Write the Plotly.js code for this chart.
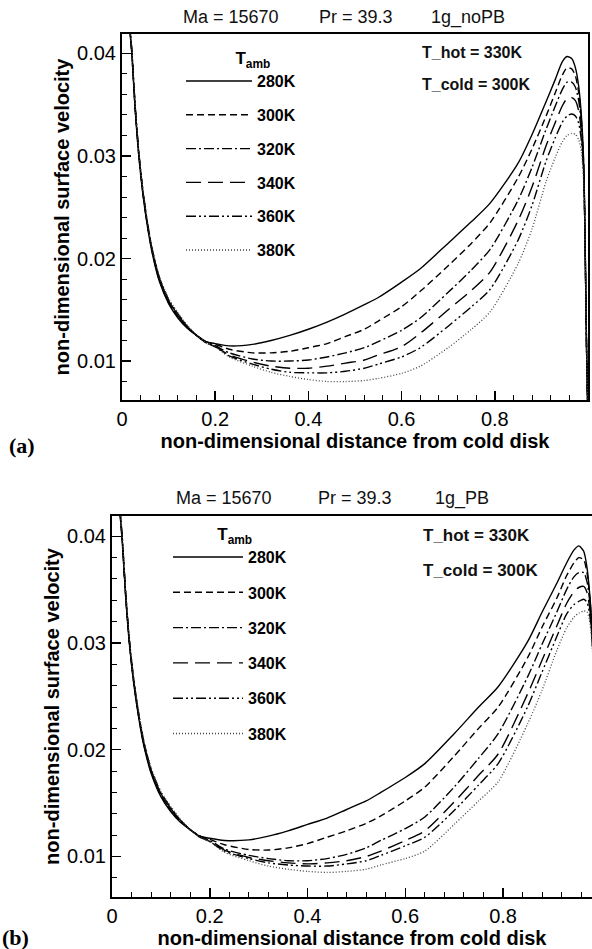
<!DOCTYPE html>
<html>
<head>
<meta charset="utf-8">
<script src="https://cdn.plot.ly/plotly-3.0.1.min.js"></script>
<style>html,body{margin:0;padding:0;background:#fff;}#chart{width:592px;height:949px;}</style>
</head>
<body>
<div id="chart"></div>
<script>
// ---------- data: panel (a) 1g_noPB ----------
var xTop = [0.010, 0.014, 0.017, 0.021, 0.028, 0.036, 0.045, 0.055, 0.065, 0.08, 0.10, 0.12, 0.14, 0.16, 0.18,
            0.20, 0.23, 0.28, 0.32, 0.36, 0.40, 0.44, 0.48, 0.52, 0.55, 0.60, 0.64, 0.70, 0.75, 0.79, 0.85,
            0.88, 0.91, 0.93, 0.945, 0.955, 0.965, 0.973, 0.98, 0.986, 0.991, 0.994, 0.997, 1.0];
var top280 = [0.0475, 0.0445, 0.0422, 0.0400, 0.0347, 0.0300, 0.0262, 0.0230, 0.0205, 0.0178, 0.0156, 0.0142, 0.0132, 0.0125, 0.0119,
              0.0117, 0.01148, 0.01162, 0.0120, 0.0125, 0.0131, 0.0138, 0.0146, 0.0155, 0.0162, 0.0177, 0.0190, 0.0215, 0.0236, 0.0254, 0.0293,
              0.0321, 0.0353, 0.0375, 0.0392, 0.0397, 0.0395, 0.0386, 0.0368, 0.0338, 0.0290, 0.0210, 0.0110, 0.0040];
var top300 = [0.0476, 0.0446, 0.0423, 0.0401, 0.0348, 0.0301, 0.0263, 0.0231, 0.0206, 0.0179, 0.0157, 0.0143, 0.0133, 0.0125, 0.0119,
              0.01165, 0.01115, 0.0108, 0.0108, 0.01095, 0.0113, 0.0117, 0.0124, 0.0131, 0.0139, 0.0153, 0.0168, 0.0193, 0.0215, 0.0235, 0.0279,
              0.0307, 0.0339, 0.0362, 0.0379, 0.0386, 0.0385, 0.0378, 0.0362, 0.0334, 0.0288, 0.0209, 0.0110, 0.0040];
var top320 = [0.0477, 0.0447, 0.0424, 0.0402, 0.0349, 0.0302, 0.0264, 0.0232, 0.0207, 0.0180, 0.0158, 0.0144, 0.0133, 0.0125, 0.0119,
              0.0115, 0.0108, 0.0102, 0.0100, 0.0100, 0.0101, 0.0104, 0.0108, 0.0113, 0.0119, 0.0130, 0.0142, 0.0167, 0.0189, 0.0209, 0.0257,
              0.0289, 0.0326, 0.0349, 0.0365, 0.0372, 0.0372, 0.0367, 0.0354, 0.0329, 0.0285, 0.0208, 0.0110, 0.0040];
var top340 = [0.0478, 0.0448, 0.0425, 0.0403, 0.0350, 0.0303, 0.0265, 0.0233, 0.0208, 0.0181, 0.0159, 0.0145, 0.0134, 0.0125, 0.0118,
              0.0114, 0.0106, 0.0099, 0.0095, 0.0093, 0.0093, 0.0095, 0.0098, 0.0101, 0.0106, 0.0114, 0.0127, 0.0150, 0.0169, 0.0187, 0.0237,
              0.0270, 0.0310, 0.0333, 0.0349, 0.0356, 0.0357, 0.0354, 0.0344, 0.0322, 0.0282, 0.0207, 0.0110, 0.0040];
var top360 = [0.0479, 0.0449, 0.0426, 0.0404, 0.0351, 0.0304, 0.0266, 0.0234, 0.0209, 0.0182, 0.0160, 0.0146, 0.0134, 0.0125, 0.0118,
              0.0114, 0.0105, 0.0097, 0.0092, 0.0089, 0.00885, 0.00885, 0.0090, 0.0093, 0.0097, 0.0104, 0.0113, 0.0134, 0.0153, 0.0170, 0.0218,
              0.0252, 0.0295, 0.0318, 0.0333, 0.0339, 0.0341, 0.0339, 0.0332, 0.0314, 0.0278, 0.0206, 0.0110, 0.0040];
var top380 = [0.0480, 0.0450, 0.0427, 0.0405, 0.0352, 0.0305, 0.0267, 0.0235, 0.0210, 0.0183, 0.0161, 0.0147, 0.0135, 0.0125, 0.0118,
              0.0114, 0.0104, 0.0095, 0.0089, 0.0085, 0.0082, 0.0080, 0.0080, 0.0081, 0.0083, 0.0088, 0.0095, 0.0113, 0.0131, 0.0148, 0.0195,
              0.0229, 0.0275, 0.0299, 0.0314, 0.0320, 0.0322, 0.0321, 0.0316, 0.0304, 0.0272, 0.0204, 0.0110, 0.0040];

// ---------- data: panel (b) 1g_PB ----------
var xBot = [0.010, 0.014, 0.017, 0.021, 0.028, 0.036, 0.045, 0.055, 0.065, 0.08, 0.10, 0.12, 0.14, 0.16, 0.18,
            0.20, 0.23, 0.28, 0.32, 0.36, 0.40, 0.44, 0.48, 0.52, 0.55, 0.60, 0.64, 0.70, 0.75, 0.79, 0.85,
            0.88, 0.91, 0.93, 0.945, 0.955, 0.965, 0.972, 0.978, 0.983, 0.988, 0.993];
var bot280 = [0.0470, 0.0440, 0.0418, 0.0395, 0.0343, 0.0297, 0.0260, 0.0229, 0.0204, 0.0178, 0.0156, 0.0142, 0.0132, 0.0125, 0.0119,
              0.0117, 0.0115, 0.01155, 0.0119, 0.0124, 0.0130, 0.0136, 0.0144, 0.0152, 0.0160, 0.0174, 0.0187, 0.0215, 0.0240, 0.0259, 0.0301,
              0.0329, 0.0356, 0.0375, 0.0387, 0.0391, 0.0386, 0.0370, 0.0342, 0.0305, 0.0250, 0.0180];
var bot300 = [0.0471, 0.0441, 0.0419, 0.0396, 0.0344, 0.0298, 0.0261, 0.0230, 0.0205, 0.0179, 0.0157, 0.0143, 0.0133, 0.0125, 0.0119,
              0.0116, 0.0111, 0.01065, 0.0106, 0.0108, 0.0112, 0.0118, 0.0124, 0.0131, 0.0138, 0.0152, 0.0165, 0.0194, 0.0220, 0.0240, 0.0286,
              0.0315, 0.0342, 0.0363, 0.0375, 0.0380, 0.0378, 0.0365, 0.0340, 0.0304, 0.0250, 0.0180];
var bot320 = [0.0472, 0.0442, 0.0420, 0.0397, 0.0345, 0.0299, 0.0262, 0.0231, 0.0206, 0.0180, 0.0158, 0.0144, 0.0133, 0.0125, 0.0119,
              0.0115, 0.0107, 0.0101, 0.0098, 0.0096, 0.0096, 0.0098, 0.0102, 0.0108, 0.0115, 0.0126, 0.0137, 0.0165, 0.0192, 0.0215, 0.0268,
              0.0299, 0.0329, 0.0350, 0.0362, 0.0366, 0.0366, 0.0357, 0.0336, 0.0302, 0.0249, 0.0180];
var bot340 = [0.0473, 0.0443, 0.0421, 0.0398, 0.0346, 0.0300, 0.0263, 0.0232, 0.0207, 0.0181, 0.0159, 0.0145, 0.0134, 0.0125, 0.0118,
              0.0114, 0.0106, 0.0099, 0.0096, 0.0094, 0.0093, 0.0094, 0.0096, 0.0100, 0.0105, 0.0115, 0.0124, 0.0151, 0.0176, 0.0196, 0.0252,
              0.0284, 0.0316, 0.0337, 0.0348, 0.0352, 0.0353, 0.0347, 0.0330, 0.0299, 0.0248, 0.0180];
var bot360 = [0.0474, 0.0444, 0.0422, 0.0399, 0.0347, 0.0301, 0.0264, 0.0233, 0.0208, 0.0182, 0.0160, 0.0146, 0.0134, 0.0125, 0.0118,
              0.0114, 0.0105, 0.0098, 0.0094, 0.0092, 0.0091, 0.0091, 0.0093, 0.0096, 0.0101, 0.0110, 0.0118, 0.0143, 0.0167, 0.0187, 0.0240,
              0.0273, 0.0306, 0.0327, 0.0336, 0.0339, 0.0341, 0.0338, 0.0324, 0.0296, 0.0247, 0.0180];
var bot380 = [0.0475, 0.0445, 0.0423, 0.0400, 0.0348, 0.0302, 0.0265, 0.0234, 0.0209, 0.0183, 0.0161, 0.0147, 0.0135, 0.0125, 0.0118,
              0.0114, 0.0104, 0.0096, 0.0091, 0.0088, 0.0086, 0.0085, 0.0086, 0.0088, 0.0092, 0.0098, 0.0105, 0.0130, 0.0152, 0.0170, 0.0224,
              0.0256, 0.0293, 0.0314, 0.0324, 0.0328, 0.0330, 0.0329, 0.0318, 0.0292, 0.0245, 0.0180];

var seriesNames = ['280K', '300K', '320K', '340K', '360K', '380K'];
var titleParts = ['Ma = 15670', 'Pr = 39.3'];
var caseNames = ['1g_noPB', '1g_PB'];
var panelLabels = ['(a)', '(b)'];
var noteHot = 'T_hot = 330K';
var noteCold = 'T_cold = 300K';
var xTitle = 'non-dimensional distance from cold disk';
var yTitle = 'non-dimensional surface velocity';

// ---------- styling ----------
var W = 592, H = 949;
var FONT = 'Liberation Sans, Arial, Helvetica, sans-serif';
var dashes = ['solid', '7px,4px', '10px,3px,2px,3px', '15px,7px', '10px,3px,2px,3px,2px,3px', '1px,2px'];
var colors = ['#000', '#000', '#000', '#000', '#000', '#444'];
var widths = [1.4, 1.4, 1.4, 1.4, 1.4, 1.3];

var topY = [top280, top300, top320, top340, top360, top380];
var botY = [bot280, bot300, bot320, bot340, bot360, bot380];

var traces = [];
for (var i = 0; i < 6; i++) {
  traces.push({
    x: xTop, y: topY[i], type: 'scatter', mode: 'lines', name: seriesNames[i],
    xaxis: 'x', yaxis: 'y', legend: 'legend', legendgroup: 'a' + i,
    line: {color: colors[i], width: widths[i], dash: dashes[i], shape: 'spline', smoothing: 0.7}, hoverinfo: 'skip'
  });
}
for (var j = 0; j < 6; j++) {
  traces.push({
    x: xBot, y: botY[j], type: 'scatter', mode: 'lines', name: seriesNames[j],
    xaxis: 'x2', yaxis: 'y2', legend: 'legend2', legendgroup: 'b' + j,
    line: {color: colors[j], width: widths[j], dash: dashes[j], shape: 'spline', smoothing: 0.7}, hoverinfo: 'skip'
  });
}

function px(x) { return x / W; }
function py(y) { return 1 - y / H; }

function xAxis(domain, range, anchor, mirror) {
  return {
    domain: domain, range: range, anchor: anchor, showgrid: false, zeroline: false,
    showline: true, linecolor: '#000', linewidth: 2, mirror: mirror,
    ticks: 'inside', ticklen: 9, tickwidth: 1.5, tickcolor: '#000',
    tick0: 0, dtick: 0.2,
    minor: {ticks: 'inside', ticklen: 5, tickwidth: 1, tickcolor: '#000', dtick: 0.04, showgrid: false},
    tickfont: {family: FONT, size: 20, color: '#000'},
    title: {text: '<b>' + xTitle + '</b>', font: {family: FONT, size: 20, color: '#000'}, standoff: 2}
  };
}
function yAxis(domain, anchor, mirror) {
  return {
    domain: domain, range: [0.0062, 0.0419], anchor: anchor, showgrid: false, zeroline: false,
    showline: true, linecolor: '#000', linewidth: 2, mirror: mirror,
    ticks: 'inside', ticklen: 9, tickwidth: 1.5, tickcolor: '#000',
    tick0: 0, dtick: 0.01,
    minor: {ticks: 'inside', ticklen: 5, tickwidth: 1, tickcolor: '#000', dtick: 0.002, showgrid: false},
    tickfont: {family: FONT, size: 20, color: '#000'},
    title: {text: '<b>' + yTitle + '</b>', font: {family: FONT, size: 20, color: '#000'}, standoff: 2}
  };
}
function legendCfg(x, y, gap, iw, pad) {
  return {
    x: x, y: y, xanchor: 'left', yanchor: 'top', xref: 'paper', yref: 'paper',
    bgcolor: 'rgba(0,0,0,0)', borderwidth: 0,
    font: {family: FONT, size: 16, color: '#000', weight: 700},
    itemwidth: iw, tracegroupgap: gap, itemclick: false, itemdoubleclick: false,
    title: {text: pad + '<b>T<sub>amb</sub></b>', side: 'top center', font: {family: FONT, size: 17, color: '#000'}}
  };
}

function ann(text, x, y, size, opts) {
  var a = {text: text, x: px(x), y: py(y), xref: 'paper', yref: 'paper', xanchor: 'left', yanchor: 'middle',
           showarrow: false, font: {family: FONT, size: size, color: '#111'}};
  if (opts) for (var k in opts) a[k] = opts[k];
  return a;
}

var annotations = [
  ann(titleParts[0], 181, 17, 18), ann(titleParts[1], 317, 17, 18), ann(caseNames[0], 429, 17, 18),
  ann(titleParts[0], 174, 498, 18), ann(titleParts[1], 316, 498, 18), ann(caseNames[1], 433, 498, 18),
  ann('<b>' + noteHot + '</b>', 420, 52, 16), ann('<b>' + noteCold + '</b>', 420, 84, 16),
  ann('<b>' + noteHot + '</b>', 421, 535, 17), ann('<b>' + noteCold + '</b>', 421, 570, 17),
  ann('<b>' + panelLabels[0] + '</b>', 7, 445, 22, {font: {family: 'Liberation Serif, Times New Roman, serif', size: 22, color: '#000'}}),
  ann('<b>' + panelLabels[1] + '</b>', 0, 937, 22, {font: {family: 'Liberation Serif, Times New Roman, serif', size: 22, color: '#000'}})
];

var padA = '\u00a0\u00a0\u00a0\u00a0\u00a0';
var padB = '\u00a0\u00a0';

var layout = {
  width: W, height: H, margin: {l: 0, r: 0, t: 0, b: 0},
  paper_bgcolor: '#fff', plot_bgcolor: '#fff', showlegend: true,
  xaxis: xAxis([px(122), px(588)], [0, 1], 'y', true),
  yaxis: yAxis([py(400), py(34)], 'x', true),
  xaxis2: xAxis([px(112), 1], [0, 0.982], 'y2', true),
  yaxis2: yAxis([py(897), py(516)], 'x2', false),
  legend: legendCfg(px(181), py(42), 10, 66, padA),
  legend2: legendCfg(px(168), py(518), 11.5, 70, padB),
  annotations: annotations
};

Plotly.newPlot('chart', traces, layout, {staticPlot: true, displayModeBar: false});
</script>
</body>
</html>
